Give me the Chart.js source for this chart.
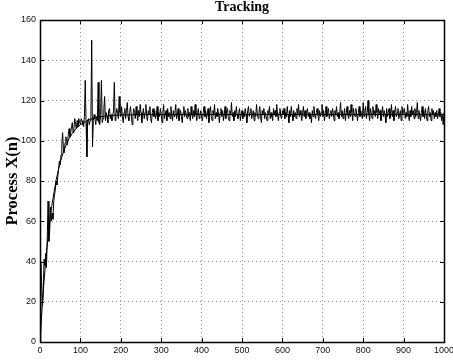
<!DOCTYPE html>
<html>
<head>
<meta charset="utf-8">
<script src="https://cdn.jsdelivr.net/npm/chart.js@4"></script>
<style>
  html, body { margin: 0; padding: 0; background: #fff; }
  #wrap { width: 453px; height: 360px; }
</style>
</head>
<body>
<div id="wrap"><canvas id="myChart"></canvas></div>
<script>
// sample spacing of the noisy process (n = i * step)
var noiseStep = 2;
var noiseValues = [
  // n = 0 .. 200
  0, 40, 30, 18, 24, 41, 38, 44, 37, 52,
  70, 50, 55, 67, 60, 64, 61, 70, 73, 76,
  80, 78, 82, 86, 90, 88, 93, 98, 104, 96,
  94, 99, 102, 100, 98, 103, 106, 102, 104, 107,
  109, 104, 106, 111, 108, 106, 110, 107, 111, 109,
  108, 111, 110, 108, 107, 112, 130, 109, 92, 110,
  111, 108, 110, 112, 150, 97, 110, 113, 111, 108,
  112, 110, 129, 109, 108, 113, 130, 109, 111, 116,
  122, 110, 114, 112, 109, 115, 116, 111, 113, 110,
  112, 115, 129, 110, 113, 116, 114, 111, 122, 114,
  112,
  // n = 202 .. 1000
  117, 112, 109, 114, 116, 111, 115, 119, 112, 110,
  114, 117, 113, 108, 112, 116, 114, 111, 117, 113,
  110, 115, 112, 118, 114, 109, 113, 116, 111, 114,
  118, 112, 110, 115, 113, 117, 111, 109, 114, 116,
  112, 115, 111, 113, 117, 110, 114, 112, 116, 113,
  109, 114, 118, 111, 113, 115, 110, 116, 112, 114,
  111, 117, 113, 110, 115, 112, 114, 118, 111, 113,
  116, 110, 113, 115, 112, 109, 114, 117, 112, 115,
  113, 111, 116, 112, 114, 110, 117, 113, 111, 115,
  112, 118, 113, 110, 114, 116, 111, 113, 115, 112,
  110, 114, 117, 112, 115, 111, 113, 116, 109, 114,
  117, 112, 110, 115, 113, 118, 111, 114, 112, 116,
  113, 109, 114, 116, 112, 115, 110, 113, 117, 111,
  114, 116, 112, 110, 115, 113, 119, 112, 114, 110,
  115, 112, 117, 113, 111, 114, 116, 110, 113, 115,
  111, 114, 112, 116, 113, 109, 115, 117, 112, 114,
  116, 111, 113, 115, 110, 114, 112, 118, 113, 111,
  114, 117, 112, 109, 115, 113, 116, 111, 114, 112,
  110, 115, 113, 117, 111, 114, 112, 110, 116, 113,
  115, 112, 118, 113, 110, 114, 116, 112, 111, 115,
  113, 116, 111, 114, 112, 117, 113, 109, 115, 112,
  117, 113, 110, 115, 112, 114, 111, 116, 113, 118,
  112, 115, 113, 110, 114, 117, 112, 115, 111, 114,
  116, 112, 114, 111, 113, 109, 115, 112, 117, 113,
  111, 114, 116, 113, 110, 115, 112, 114, 118, 112,
  115, 110, 113, 117, 112, 114, 116, 111, 113, 115,
  112, 116, 114, 110, 115, 113, 117, 112, 114, 111,
  114, 119, 112, 115, 111, 113, 116, 110, 114, 117,
  113, 111, 115, 112, 118, 114, 110, 116, 113, 112,
  116, 113, 110, 114, 117, 112, 115, 113, 111, 119,
  112, 115, 117, 111, 114, 120, 113, 110, 116, 114,
  111, 117, 113, 115, 112, 118, 114, 111, 116, 113,
  115, 110, 114, 117, 112, 115, 113, 109, 116, 112,
  114, 116, 111, 113, 118, 112, 115, 110, 114, 117,
  112, 114, 116, 111, 113, 115, 110, 117, 113, 115,
  116, 111, 114, 112, 118, 113, 110, 115, 112, 117,
  113, 115, 111, 116, 112, 114, 119, 111, 115, 113,
  110, 114, 117, 112, 115, 111, 116, 113, 110, 115,
  117, 112, 114, 110, 116, 113, 115, 111, 114, 112,
  115, 111, 113, 116, 112, 114, 110, 113, 108, 114
];

// tracking estimate (smooth curve)
var trackN = [0, 5, 10, 15, 20, 25, 30, 40, 50, 60, 70, 80, 90, 100, 120, 140, 160, 180, 200, 250, 1000];
var trackValues = [0, 16.4, 30.3, 42.3, 52.5, 61.3, 68.7, 80.6, 89.3, 95.7, 100.3, 103.7, 106.2, 108.0, 110.3, 111.6, 112.2, 112.6, 112.8, 113.0, 113.0];

var xTicks = [0, 100, 200, 300, 400, 500, 600, 700, 800, 900, 1000];
var yTicks = [0, 20, 40, 60, 80, 100, 120, 140, 160];

var noisePts = noiseValues.map(function (v, i) { return { x: i * noiseStep, y: v }; });
var trackPts = trackValues.map(function (v, i) { return { x: trackN[i], y: v }; });

// black box around the axes with inward ticks, like matlab
var boxPlugin = {
  id: 'box',
  afterDraw: function (chart) {
    var a = chart.chartArea, c = chart.ctx;
    var sx = chart.scales.x, sy = chart.scales.y;
    var len = 4;
    c.save();
    c.strokeStyle = '#000';
    c.lineWidth = 1;
    c.beginPath();
    xTicks.forEach(function (v) {
      var px = Math.round(sx.getPixelForValue(v)) + 0.5;
      c.moveTo(px, a.bottom); c.lineTo(px, a.bottom - len);
      c.moveTo(px, a.top); c.lineTo(px, a.top + len);
    });
    yTicks.forEach(function (v) {
      var py = Math.round(sy.getPixelForValue(v)) + 0.5;
      c.moveTo(a.left, py); c.lineTo(a.left + len, py);
      c.moveTo(a.right, py); c.lineTo(a.right - len, py);
    });
    c.stroke();
    c.lineWidth = 1.5;
    c.strokeRect(Math.round(a.left) + 0.5, Math.round(a.top) + 0.5,
                 Math.round(a.right - a.left), Math.round(a.bottom - a.top));
    c.restore();
  }
};

var tickFont = { family: 'Liberation Sans', size: 9 };
var plainLabel = function (v) { return String(v); };

const ctx = document.getElementById('myChart');
const chart = new Chart(ctx, {
  type: 'line',
  data: {
    datasets: [{
      data: noisePts,
      borderColor: '#000',
      borderWidth: 1,
      pointRadius: 0,
      tension: 0,
      order: 2
    }, {
      data: trackPts,
      borderColor: '#000',
      borderWidth: 1,
      pointRadius: 0,
      tension: 0,
      order: 1
    }]
  },
  options: {
    responsive: true,
    maintainAspectRatio: false,
    animation: false,
    layout: { padding: { left: 0, right: 9, top: 0, bottom: 0 } },
    scales: {
      x: {
        type: 'linear',
        min: 0,
        max: 1000,
        afterBuildTicks: function (axis) { axis.ticks = xTicks.map(function (v) { return { value: v }; }); },
        afterFit: function (axis) { axis.height = 18; axis.paddingRight = 0; axis.paddingLeft = 0; },
        ticks: { font: tickFont, color: '#111', padding: 3, maxRotation: 0, autoSkip: false, callback: plainLabel },
        grid: { color: '#999', drawTicks: false },
        border: { display: false, dash: [1, 3] }
      },
      y: {
        min: 0,
        max: 160,
        afterBuildTicks: function (axis) { axis.ticks = yTicks.map(function (v) { return { value: v }; }); },
        afterFit: function (axis) { axis.width = 40; axis.paddingTop = 0; axis.paddingBottom = 0; },
        ticks: { font: tickFont, color: '#111', padding: 4, callback: plainLabel },
        grid: { color: '#999', drawTicks: false },
        border: { display: false, dash: [1, 3] },
        title: {
          display: true,
          text: 'Process X(n)',
          color: '#000',
          font: { family: 'Liberation Serif', size: 16.5, weight: 'bold', lineHeight: 1.2 },
          padding: { top: 3, bottom: 0 }
        }
      }
    },
    plugins: {
      legend: { display: false },
      tooltip: { enabled: false },
      title: {
        display: true,
        fullSize: false,
        text: 'Tracking',
        color: '#000',
        font: { family: 'Liberation Serif', size: 14, weight: 'bold', lineHeight: 1 },
        padding: { top: 0, bottom: 6 }
      }
    }
  },
  plugins: [boxPlugin]
});
</script>
</body>
</html>
